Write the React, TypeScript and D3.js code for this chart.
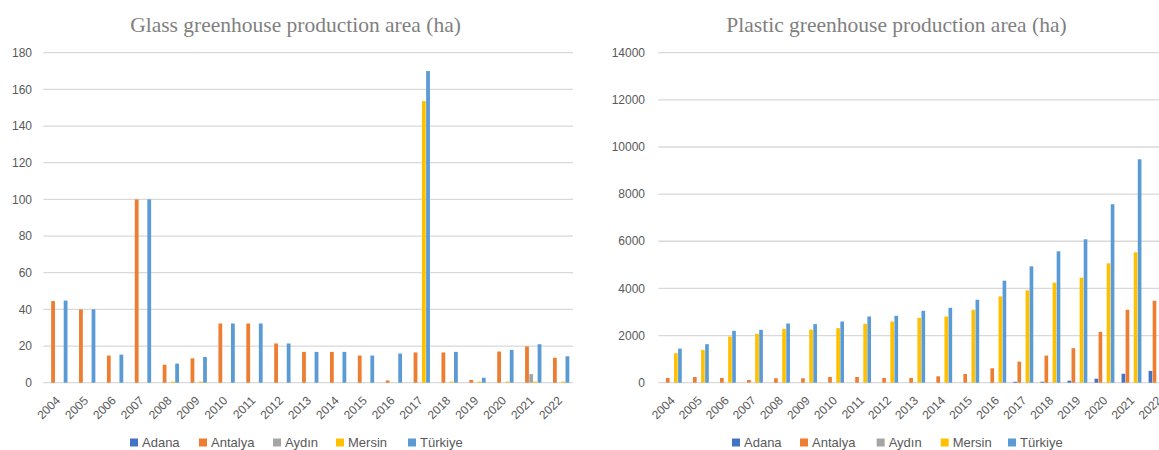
import React from 'react';
import * as d3 from 'd3';

const years = ['2004','2005','2006','2007','2008','2009','2010','2011','2012','2013','2014','2015','2016','2017','2018','2019','2020','2021','2022'];
const seriesNames = ['Adana', 'Antalya', 'Aydın', 'Mersin', 'Türkiye'];
const seriesColors = ['#4472C4', '#ED7D31', '#A5A5A5', '#FFC000', '#5B9BD5'];

// Glass greenhouse production area (ha)
const glassAdana = [0,0,0,0,0,0,0,0,0,0,0,0,0,0,0,0,0,0,0];
const glassAntalya = [44.5,40,14.8,100,9.8,13.3,32.3,32.3,21.4,16.8,16.8,14.8,1.2,16.5,16.5,1.5,17,19.8,13.6];
const glassAydin = [0,0,0,0,0,0,0,0,0,0,0,0,0,0,0,0,0,4.7,0];
const glassMersin = [0,0,0,0,0.6,0.6,0,0,0,0,0,0,0,153.6,0.6,0.6,0.6,0.6,0.6];
const glassTurkiye = [44.8,40,15.3,100,10.4,14,32.3,32.3,21.4,16.8,16.8,14.8,15.9,170,16.8,2.7,17.9,21,14.4];
const glassTicks = [0,20,40,60,80,100,120,140,160,180];

// Plastic greenhouse production area (ha)
const plasticAdana = [0,0,0,0,0,0,0,0,0,0,0,0,0,40,40,85,170,380,500];
const plasticAntalya = [200,243,200,115,190,187,243,243,200,200,272,370,612,894,1149,1464,2157,3094,3476];
const plasticAydin = [0,0,0,0,0,0,0,0,0,0,0,0,0,0,0,0,0,0,0];
const plasticMersin = [1250,1391,1957,2072,2285,2255,2315,2498,2596,2753,2809,3094,3660,3915,4243,4455,5064,5532,5900];
const plasticTurkiye = [1447,1634,2200,2243,2511,2485,2596,2809,2838,3051,3178,3519,4328,4936,5574,6085,7570,9478,10000];
const plasticTicks = [0,2000,4000,6000,8000,10000,12000,14000];

const glassSeries = [glassAdana, glassAntalya, glassAydin, glassMersin, glassTurkiye];
const plasticSeries = [plasticAdana, plasticAntalya, plasticAydin, plasticMersin, plasticTurkiye];

const SANS = '"Liberation Sans", Arial, sans-serif';
const SERIF = '"Liberation Serif", "Times New Roman", serif';
const TEXT = '#595959';
const GRID = '#d9d9d9';

type ChartProps = {
  title: string;
  titleX: number;
  series: number[][];
  ticks: number[];
  yMax: number;
  x0: number;
  x1: number;
  labelRight: number;
  legendX: number[];
};

function BarChart({ title, titleX, series, ticks, yMax, x0, x1, labelRight, legendX }: ChartProps) {
  const yTop = 52.7;
  const yBase = 382.7;
  const x = d3.scaleBand<string>().domain(years).range([x0, x1]).paddingInner(0.25).paddingOuter(0.125);
  const inner = d3.scaleBand<string>().domain(seriesNames).range([0, x.bandwidth()]).padding(0);
  const y = d3.scaleLinear().domain([0, yMax]).range([yBase, yTop]);
  const bw = inner.bandwidth();
  return (
    <g>
      <text x={titleX} y={32} textAnchor="middle" fontFamily={SERIF} fontSize={21.5} fill="#7f7f7f">{title}</text>
      {ticks.map((t) => (
        <g key={t}>
          <line x1={x0} x2={x1} y1={y(t)} y2={y(t)} stroke={GRID} strokeWidth={1.3} />
          <text x={labelRight} y={y(t)} dy="0.35em" textAnchor="end" fontFamily={SANS} fontSize={12} fill={TEXT}>{t}</text>
        </g>
      ))}
      {series.map((vals, si) => (
        <g key={si} fill={seriesColors[si]}>
          {vals.map((v, i) => {
            if (v <= 0) return null;
            const bx = (x(years[i]) as number) + (inner(seriesNames[si]) as number);
            return <rect key={i} x={bx + 0.2} y={y(v)} width={bw - 0.4} height={yBase - y(v)} />;
          })}
        </g>
      ))}
      {years.map((yr) => {
        const cx = (x(yr) as number) + x.bandwidth() / 2 + 3.8;
        const cy = yBase + 18.5;
        return (
          <text key={yr} x={cx} y={cy} transform={`rotate(-45 ${cx} ${cy})`} textAnchor="end" fontFamily={SANS} fontSize={12} fill={TEXT}>{yr}</text>
        );
      })}
      {seriesNames.map((n, i) => (
        <g key={n}>
          <rect x={legendX[i]} y={438.5} width={8} height={8} fill={seriesColors[i]} />
          <text x={legendX[i] + 12} y={447.3} fontFamily={SANS} fontSize={13} fill={TEXT}>{n}</text>
        </g>
      ))}
    </g>
  );
}

export default function App() {
  return (
    <svg width={1159} height={450} style={{ position: 'absolute', left: 0, top: 0, background: '#fff' }}>
      <rect x={0} y={0} width={1159} height={450} fill="#fff" />
      <BarChart
        title="Glass greenhouse production area (ha)"
        titleX={295.5}
        series={glassSeries}
        ticks={glassTicks}
        yMax={180}
        x0={43.3}
        x1={573}
        labelRight={32}
        legendX={[130, 199, 273, 336, 408]}
      />
      <BarChart
        title="Plastic greenhouse production area (ha)"
        titleX={896.5}
        series={plasticSeries}
        ticks={plasticTicks}
        yMax={14000}
        x0={658.3}
        x1={658.3 + 19 * 27.04}
        labelRight={645}
        legendX={[732, 800, 876.7, 940.7, 1008]}
      />
    </svg>
  );
}
